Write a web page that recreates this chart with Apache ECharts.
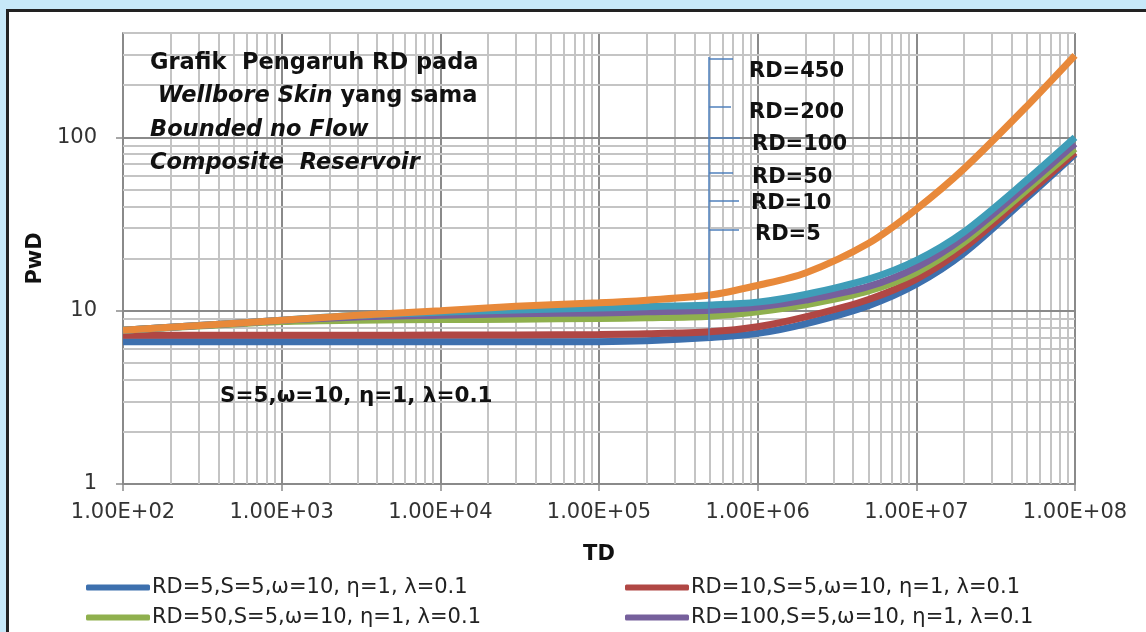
<!DOCTYPE html>
<html>
<head>
<meta charset="utf-8">
<title>Grafik Pengaruh RD</title>
<script src="https://cdn.jsdelivr.net/npm/echarts@6/dist/echarts.min.js"></script>
<style>
  html, body { margin: 0; padding: 0; background: #c7e8f8; overflow: hidden; width: 1146px; height: 632px; }
  #frame {
    position: absolute; left: 6px; top: 9px; width: 1300px; height: 700px;
    background: #fff; border-left: 3px solid #222; border-top: 3px solid #222;
  }
  #chart { position: absolute; left: 0; top: 0; width: 1146px; height: 632px; }
</style>
</head>
<body>
<div id="frame"></div>
<div id="chart"></div>
<script>
'use strict';

// TD values where the curves were read
const td = [1e2, 3e2, 1e3, 3e3, 1e4, 3e4, 1e5, 2e5, 5e5, 1e6, 2e6, 5e6, 1e7, 2e7, 5e7, 1e8];

// PwD for each RD
const rd5   = [6.61, 6.61, 6.61, 6.61, 6.61, 6.61, 6.62, 6.70, 7.00, 7.40, 8.40, 10.7, 14.2, 21.5, 45, 80];
const rd10  = [7.22, 7.22, 7.22, 7.22, 7.23, 7.25, 7.29, 7.35, 7.55, 8.07, 9.20, 11.6, 15.2, 23.0, 47, 82];
const rd50  = [7.72, 8.15, 8.65, 8.82, 8.88, 8.93, 9.02, 9.10, 9.30, 9.84, 10.8, 13.0, 16.6, 24.8, 50, 86];
const rd100 = [7.72, 8.20, 8.80, 9.20, 9.42, 9.60, 9.71, 9.85, 10.07, 10.5, 11.5, 13.8, 17.8, 26.5, 53, 92];
const rd200 = [7.72, 8.20, 8.80, 9.40, 9.80, 10.1, 10.35, 10.55, 10.8, 11.2, 12.4, 15.2, 19.5, 28.5, 57, 100];
const rd450 = [7.72, 8.20, 8.80, 9.40, 10.0, 10.6, 11.1, 11.5, 12.3, 14.0, 16.5, 24.5, 38.5, 66, 152, 297];

const seriesNames = [
  'RD=5,S=5,ω=10, η=1, λ=0.1',
  'RD=10,S=5,ω=10, η=1, λ=0.1',
  'RD=50,S=5,ω=10, η=1, λ=0.1',
  'RD=100,S=5,ω=10, η=1, λ=0.1',
  'RD=200,S=5,ω=10, η=1, λ=0.1',
  'RD=450,S=5,ω=10, η=1, λ=0.1'
];
const seriesColors = ['#3d70ae', '#b04744', '#8fb04e', '#76609c', '#3f9db8', '#e8893a'];

const yTicks = [1, 10, 100];
const yMax = 400;
const xMin = 1e2;
const xMax = 1e8;

const FONT = 'DejaVu Sans';
const MAJOR = '#8a8a8a';
const MINOR = '#c4c4c4';

function pairs(ys) {
  return td.map(function(t, i) { return [t, ys[i]]; });
}

// log grid lines, drawn as mark lines on the axes
function gridLines() {
  const lines = [];
  const minor = { color: MINOR, width: 2, type: 'solid' };
  const major = { color: MAJOR, width: 2, type: 'solid' };
  for (let d = xMin; d < xMax; d *= 10) {
    for (let k = 2; k <= 9; k++) {
      lines.push({ xAxis: k * d, lineStyle: minor });
    }
    lines.push({ xAxis: d * 10, lineStyle: major });
  }
  for (let d = 1; d <= 100; d *= 10) {
    for (let k = 2; k <= 9; k++) {
      if (k * d > yMax) break;
      lines.push({ yAxis: k * d, lineStyle: minor });
    }
    if (d > 1) lines.push({ yAxis: d, lineStyle: major });
  }
  return lines;
}

const allData = [rd5, rd10, rd50, rd100, rd200, rd450];

const series = [{
  name: 'grid',
  type: 'line',
  data: [[xMin, 1]],
  showSymbol: false,
  lineStyle: { opacity: 0 },
  silent: true,
  z: 0,
  markLine: {
    silent: true,
    z: 1,
    symbol: ['none', 'none'],
    label: { show: false },
    lineStyle: { type: 'solid' },
    emphasis: { disabled: true },
    animation: false,
    data: gridLines()
  }
}];

allData.forEach(function(ys, i) {
  series.push({
    name: seriesNames[i],
    type: 'line',
    data: pairs(ys),
    smooth: 0.3,
    showSymbol: false,
    z: 3 + i,
    color: seriesColors[i],
    lineStyle: { width: 7, color: seriesColors[i] }
  });
});

// RD label annotations next to the bracket
const rdLabels = [
  { text: 'RD=450', x: 749, y: 73, tick: 59, len: 24 },
  { text: 'RD=200', x: 749, y: 114, tick: 107, len: 22 },
  { text: 'RD=100', x: 752, y: 146, tick: 138, len: 31 },
  { text: 'RD=50', x: 752, y: 179, tick: 173, len: 24 },
  { text: 'RD=10', x: 751, y: 205, tick: 201, len: 30 },
  { text: 'RD=5', x: 755, y: 236, tick: 230, len: 30 }
];

const graphics = [];
const bracketX = 709;
graphics.push({
  type: 'line', shape: { x1: bracketX, y1: 57, x2: bracketX, y2: 340 },
  style: { stroke: '#4f81bd', lineWidth: 1.5 }, z: 50
});
rdLabels.forEach(function(l) {
  graphics.push({
    type: 'line', shape: { x1: bracketX, y1: l.tick, x2: bracketX + l.len, y2: l.tick },
    style: { stroke: '#4f81bd', lineWidth: 1.5 }, z: 50
  });
  graphics.push({
    type: 'text', left: l.x, top: l.y - 12, z: 50,
    style: { text: l.text, font: 'bold 21px "DejaVu Sans"', fill: '#111' }
  });
});

// title block
graphics.push({
  type: 'text', left: 150, top: 46, z: 50,
  style: {
    text: '{b|Grafik  Pengaruh RD pada}\n {bi|Wellbore Skin} {b|yang sama}\n{bi|Bounded no Flow}\n{bi|Composite  Reservoir}',
    lineHeight: 33.5,
    fill: '#111',
    rich: {
      b: { fontFamily: FONT, fontWeight: 'bold', fontSize: 22.5, lineHeight: 33.5, fill: '#111' },
      bi: { fontFamily: FONT, fontWeight: 'bold', fontStyle: 'italic', fontSize: 22.5, lineHeight: 33.5, fill: '#111' }
    },
    font: 'bold 22.5px "DejaVu Sans"'
  }
});
graphics.push({
  type: 'text', left: 220, top: 385, z: 50,
  style: { text: 'S=5,ω=10, η=1, λ=0.1', font: 'bold 21.5px "DejaVu Sans"', fill: '#111' }
});

const chart = echarts.init(document.getElementById('chart'), null, { renderer: 'canvas' });

const option = {
  animation: false,
  backgroundColor: 'transparent',
  textStyle: { fontFamily: FONT },
  grid: { left: 123, right: 71, top: 33, bottom: 148, containLabel: false },
  legend: [{
    data: [seriesNames[0], seriesNames[2]],
    orient: 'vertical', left: 86, top: 577, height: 80, padding: 0,
    icon: 'roundRect', itemWidth: 64, itemHeight: 6, itemGap: 9,
    textStyle: { fontFamily: FONT, fontSize: 21, color: '#222', padding: [0, 0, 0, -3] },
    selectedMode: false
  }, {
    data: [seriesNames[1], seriesNames[3]],
    orient: 'vertical', left: 625, top: 577, height: 80, padding: 0,
    icon: 'roundRect', itemWidth: 64, itemHeight: 6, itemGap: 9,
    textStyle: { fontFamily: FONT, fontSize: 21, color: '#222', padding: [0, 0, 0, -3] },
    selectedMode: false
  }],
  xAxis: {
    type: 'log',
    logBase: 10,
    min: xMin,
    max: xMax,
    name: 'TD',
    nameLocation: 'middle',
    nameGap: 60,
    nameTextStyle: { fontFamily: FONT, fontWeight: 'bold', fontSize: 21, color: '#111' },
    axisLine: { lineStyle: { color: MAJOR, width: 2 } },
    axisTick: { show: true, length: 7, lineStyle: { color: MAJOR, width: 1.5 } },
    axisLabel: {
      margin: 18, fontFamily: FONT, fontSize: 21, color: '#333',
      formatter: function(v) {
        const e = Math.round(Math.log10(v));
        return '1.00E+' + (e < 10 ? '0' : '') + e;
      }
    },
    splitLine: { show: false },
    minorTick: { show: false }
  },
  yAxis: {
    type: 'log',
    logBase: 10,
    min: 1,
    max: yMax,
    name: 'PwD',
    nameLocation: 'middle',
    nameGap: 74,
    nameRotate: 90,
    nameTextStyle: { fontFamily: FONT, fontWeight: 'bold', fontSize: 21, color: '#111' },
    axisLine: { show: true, lineStyle: { color: MAJOR, width: 2 } },
    axisTick: { show: true, length: 7, customValues: yTicks, lineStyle: { color: MAJOR, width: 1.5 } },
    axisLabel: {
      margin: 26, fontFamily: FONT, fontSize: 21, color: '#333',
      customValues: yTicks,
      formatter: function(v) {
        return yTicks.indexOf(Math.round(v)) >= 0 ? String(Math.round(v)) : '';
      }
    },
    splitLine: { show: false }
  },
  graphic: graphics,
  series: series
};

chart.setOption(option);
</script>
</body>
</html>
